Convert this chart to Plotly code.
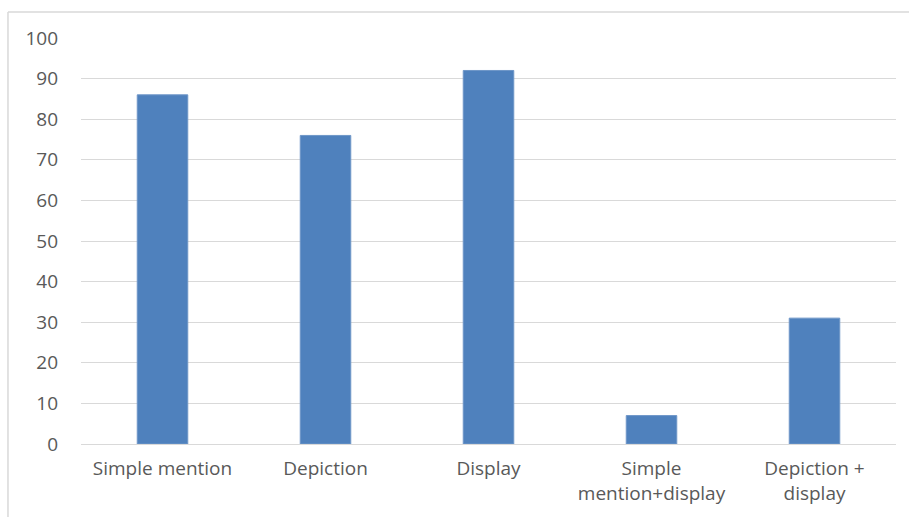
import plotly.graph_objects as go

categories = ["Simple mention", "Depiction", "Display", "Simple<br>mention+display", "Depiction +<br>display"]
values = [86, 76, 92, 7, 31]
y_ticks = list(range(0, 101, 10))

fig = go.Figure()
fig.add_trace(go.Bar(
    x=categories, y=values,
    marker=dict(color="#4F81BD", line=dict(color="#6E96C8", width=1)),
    width=0.31,
))

font_family = "Open Sans, Liberation Sans, Arial, sans-serif"
fig.update_layout(
    width=909, height=517,
    margin=dict(l=81, r=13, t=38, b=73),
    paper_bgcolor="white", plot_bgcolor="white",
    showlegend=False,
    font=dict(family=font_family, size=19, color="#595959"),
    xaxis=dict(showgrid=False, showline=False, ticks="", tickfont=dict(size=19, color="#595959"),
               tickangle=0, ticklabelstandoff=11),
    yaxis=dict(range=[0, 100], tickvals=y_ticks, showgrid=True, gridcolor="#D9D9D9", gridwidth=1,
               zeroline=True, zerolinecolor="#D9D9D9", zerolinewidth=1, showline=False, ticks="",
               tickfont=dict(size=19, color="#595959"), ticklabelstandoff=22),
    shapes=[
        dict(type="line", xref="paper", yref="paper", x0=-0.0896, x1=-0.0896, y0=-0.3, y1=1.064,
             line=dict(color="#D9D9D9", width=1.5)),
        dict(type="line", xref="paper", yref="paper", x0=-0.0896, x1=1.1, y0=1.064, y1=1.064,
             line=dict(color="#D9D9D9", width=1.5)),
    ],
)

fig.write_html("out.html")
